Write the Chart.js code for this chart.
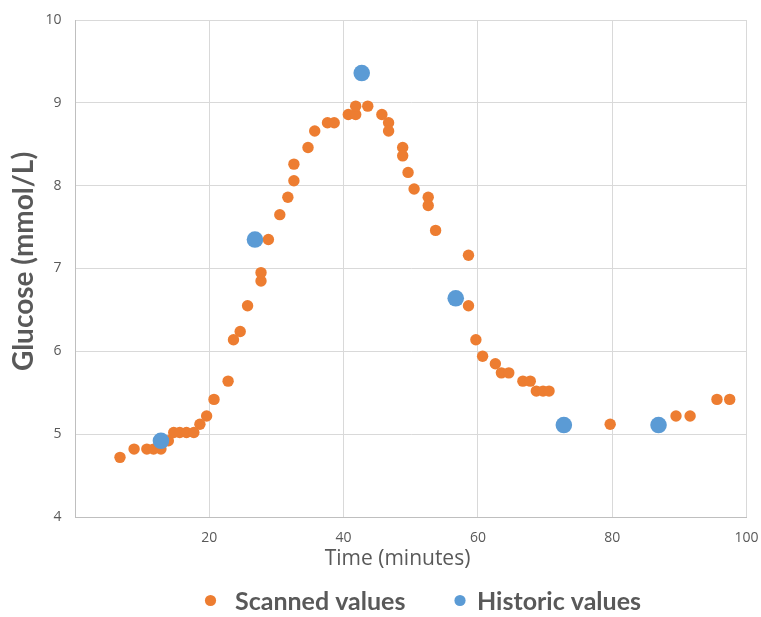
<!DOCTYPE html>
<html>
<head>
<meta charset="utf-8">
<script src="https://cdn.jsdelivr.net/npm/chart.js@4.4.1/dist/chart.umd.min.js"></script>
<style>
html,body{margin:0;padding:0;background:#ffffff;}
#wrap{width:761px;height:617px;}
</style>
</head>
<body>
<div id="wrap"><canvas id="c" width="761" height="617"></canvas></div>
<script>
// ---- data ----
const scannedTime = [6.7,8.8,10.7,11.7,12.8,13.9,14.7,15.6,16.6,17.7,18.6,19.6,20.7,22.8,23.6,24.6,25.7,27.7,27.7,28.8,30.5,31.7,32.6,32.6,34.7,35.7,37.6,38.6,40.7,41.8,41.8,43.6,45.7,46.7,46.7,48.8,48.8,49.6,50.5,52.6,52.6,53.7,58.6,58.6,59.7,60.7,62.6,63.5,64.6,66.7,67.8,68.7,69.7,70.6,79.7,89.5,91.6,95.6,97.5];
const scannedGlucose = [4.72,4.82,4.82,4.82,4.82,4.92,5.02,5.02,5.02,5.02,5.12,5.22,5.42,5.64,6.14,6.24,6.55,6.85,6.95,7.35,7.65,7.86,8.06,8.26,8.46,8.66,8.76,8.76,8.86,8.86,8.96,8.96,8.86,8.76,8.66,8.46,8.36,8.16,7.96,7.86,7.76,7.46,7.16,6.55,6.14,5.94,5.85,5.74,5.74,5.64,5.64,5.52,5.52,5.52,5.12,5.22,5.22,5.42,5.42];
const historicTime = [12.8,26.8,42.7,56.7,72.8,86.9];
const historicGlucose = [4.92,7.35,9.36,6.64,5.11,5.11];
const xTickValues = [0,20,40,60,80,100];
const yTickValues = [4,5,6,7,8,9,10];
const seriesNames = ['Scanned values','Historic values'];
const xTitle = 'Time (minutes)';
const yTitle = 'Glucose (mmol/L)';

const GRAY = '#595959';
const BOLDFACE = "Lato, 'Open Sans', sans-serif";
const SANS = "'Open Sans', 'Noto Sans', sans-serif";

const toPoints = (xs, ys) => xs.map((x, i) => ({x: x, y: ys[i]}));

// axis titles and legend drawn at fixed spots to mirror the reference layout
const decorations = {
  id: 'decorations',
  afterDraw(chart) {
    const ctx = chart.ctx;
    ctx.save();
    ctx.fillStyle = GRAY;
    // x title
    ctx.font = '21px ' + SANS;
    ctx.textAlign = 'center';
    ctx.textBaseline = 'alphabetic';
    ctx.fillText(xTitle, 397.5, 565);
    // y title
    ctx.save();
    ctx.translate(32.5, 261.5);
    ctx.rotate(-Math.PI / 2);
    ctx.font = 'bold 28px ' + BOLDFACE;
    ctx.fillText(yTitle, 0, 0);
    ctx.restore();
    // legend
    const items = [
      {dot: 210.5, text: 235},
      {dot: 460, text: 477}
    ];
    ctx.font = 'bold 25px ' + BOLDFACE;
    ctx.textAlign = 'left';
    chart.data.datasets.forEach((ds, i) => {
      const it = items[i];
      ctx.fillStyle = ds.backgroundColor;
      ctx.beginPath();
      ctx.arc(it.dot, 600.5, 5.6, 0, Math.PI * 2);
      ctx.fill();
      ctx.fillStyle = GRAY;
      ctx.fillText(ds.label, it.text, 610);
    });
    ctx.restore();
  }
};

const fixX = (scale) => { scale.height = 100; scale.paddingLeft = 0; scale.paddingRight = 0; };
const fixY = (scale) => { scale.width = 75; scale.paddingTop = 0; scale.paddingBottom = 0; };

new Chart(document.getElementById('c'), {
  type: 'scatter',
  data: {
    datasets: [
      {
        label: seriesNames[0],
        data: toPoints(scannedTime, scannedGlucose),
        backgroundColor: '#ED7D31',
        borderColor: '#ED7D31',
        borderWidth: 0,
        pointRadius: 5.7,
        pointHoverRadius: 5.7,
        order: 2
      },
      {
        label: seriesNames[1],
        data: toPoints(historicTime, historicGlucose),
        backgroundColor: '#5B9BD5',
        borderColor: '#5B9BD5',
        borderWidth: 0,
        pointRadius: 8.3,
        pointHoverRadius: 8.3,
        order: 1
      }
    ]
  },
  options: {
    responsive: false,
    animation: false,
    devicePixelRatio: 1,
    layout: {padding: {left: 0, right: 14.5, top: 20, bottom: 0}},
    plugins: {
      legend: {display: false},
      tooltip: {enabled: false}
    },
    scales: {
      x: {
        type: 'linear',
        min: 0,
        max: 100,
        afterBuildTicks: (s) => { s.ticks = xTickValues.map(v => ({value: v})); },
        afterFit: fixX,
        ticks: {
          color: GRAY,
          font: {family: SANS, size: 14},
          padding: 13,
          maxRotation: 0,
          autoSkip: false,
          callback: (v) => (v === 0 ? '' : String(v))
        },
        grid: {color: '#d9d9d9', lineWidth: 1, drawTicks: false},
        border: {color: '#bfbfbf', width: 1}
      },
      y: {
        type: 'linear',
        min: 4,
        max: 10,
        afterBuildTicks: (s) => { s.ticks = yTickValues.map(v => ({value: v})); },
        afterFit: fixY,
        ticks: {
          color: GRAY,
          font: {family: SANS, size: 14},
          padding: 13.5,
          callback: (v) => String(v)
        },
        grid: {color: '#d9d9d9', lineWidth: 1, drawTicks: false},
        border: {color: '#bfbfbf', width: 1}
      }
    }
  },
  plugins: [decorations]
});
</script>
</body>
</html>
